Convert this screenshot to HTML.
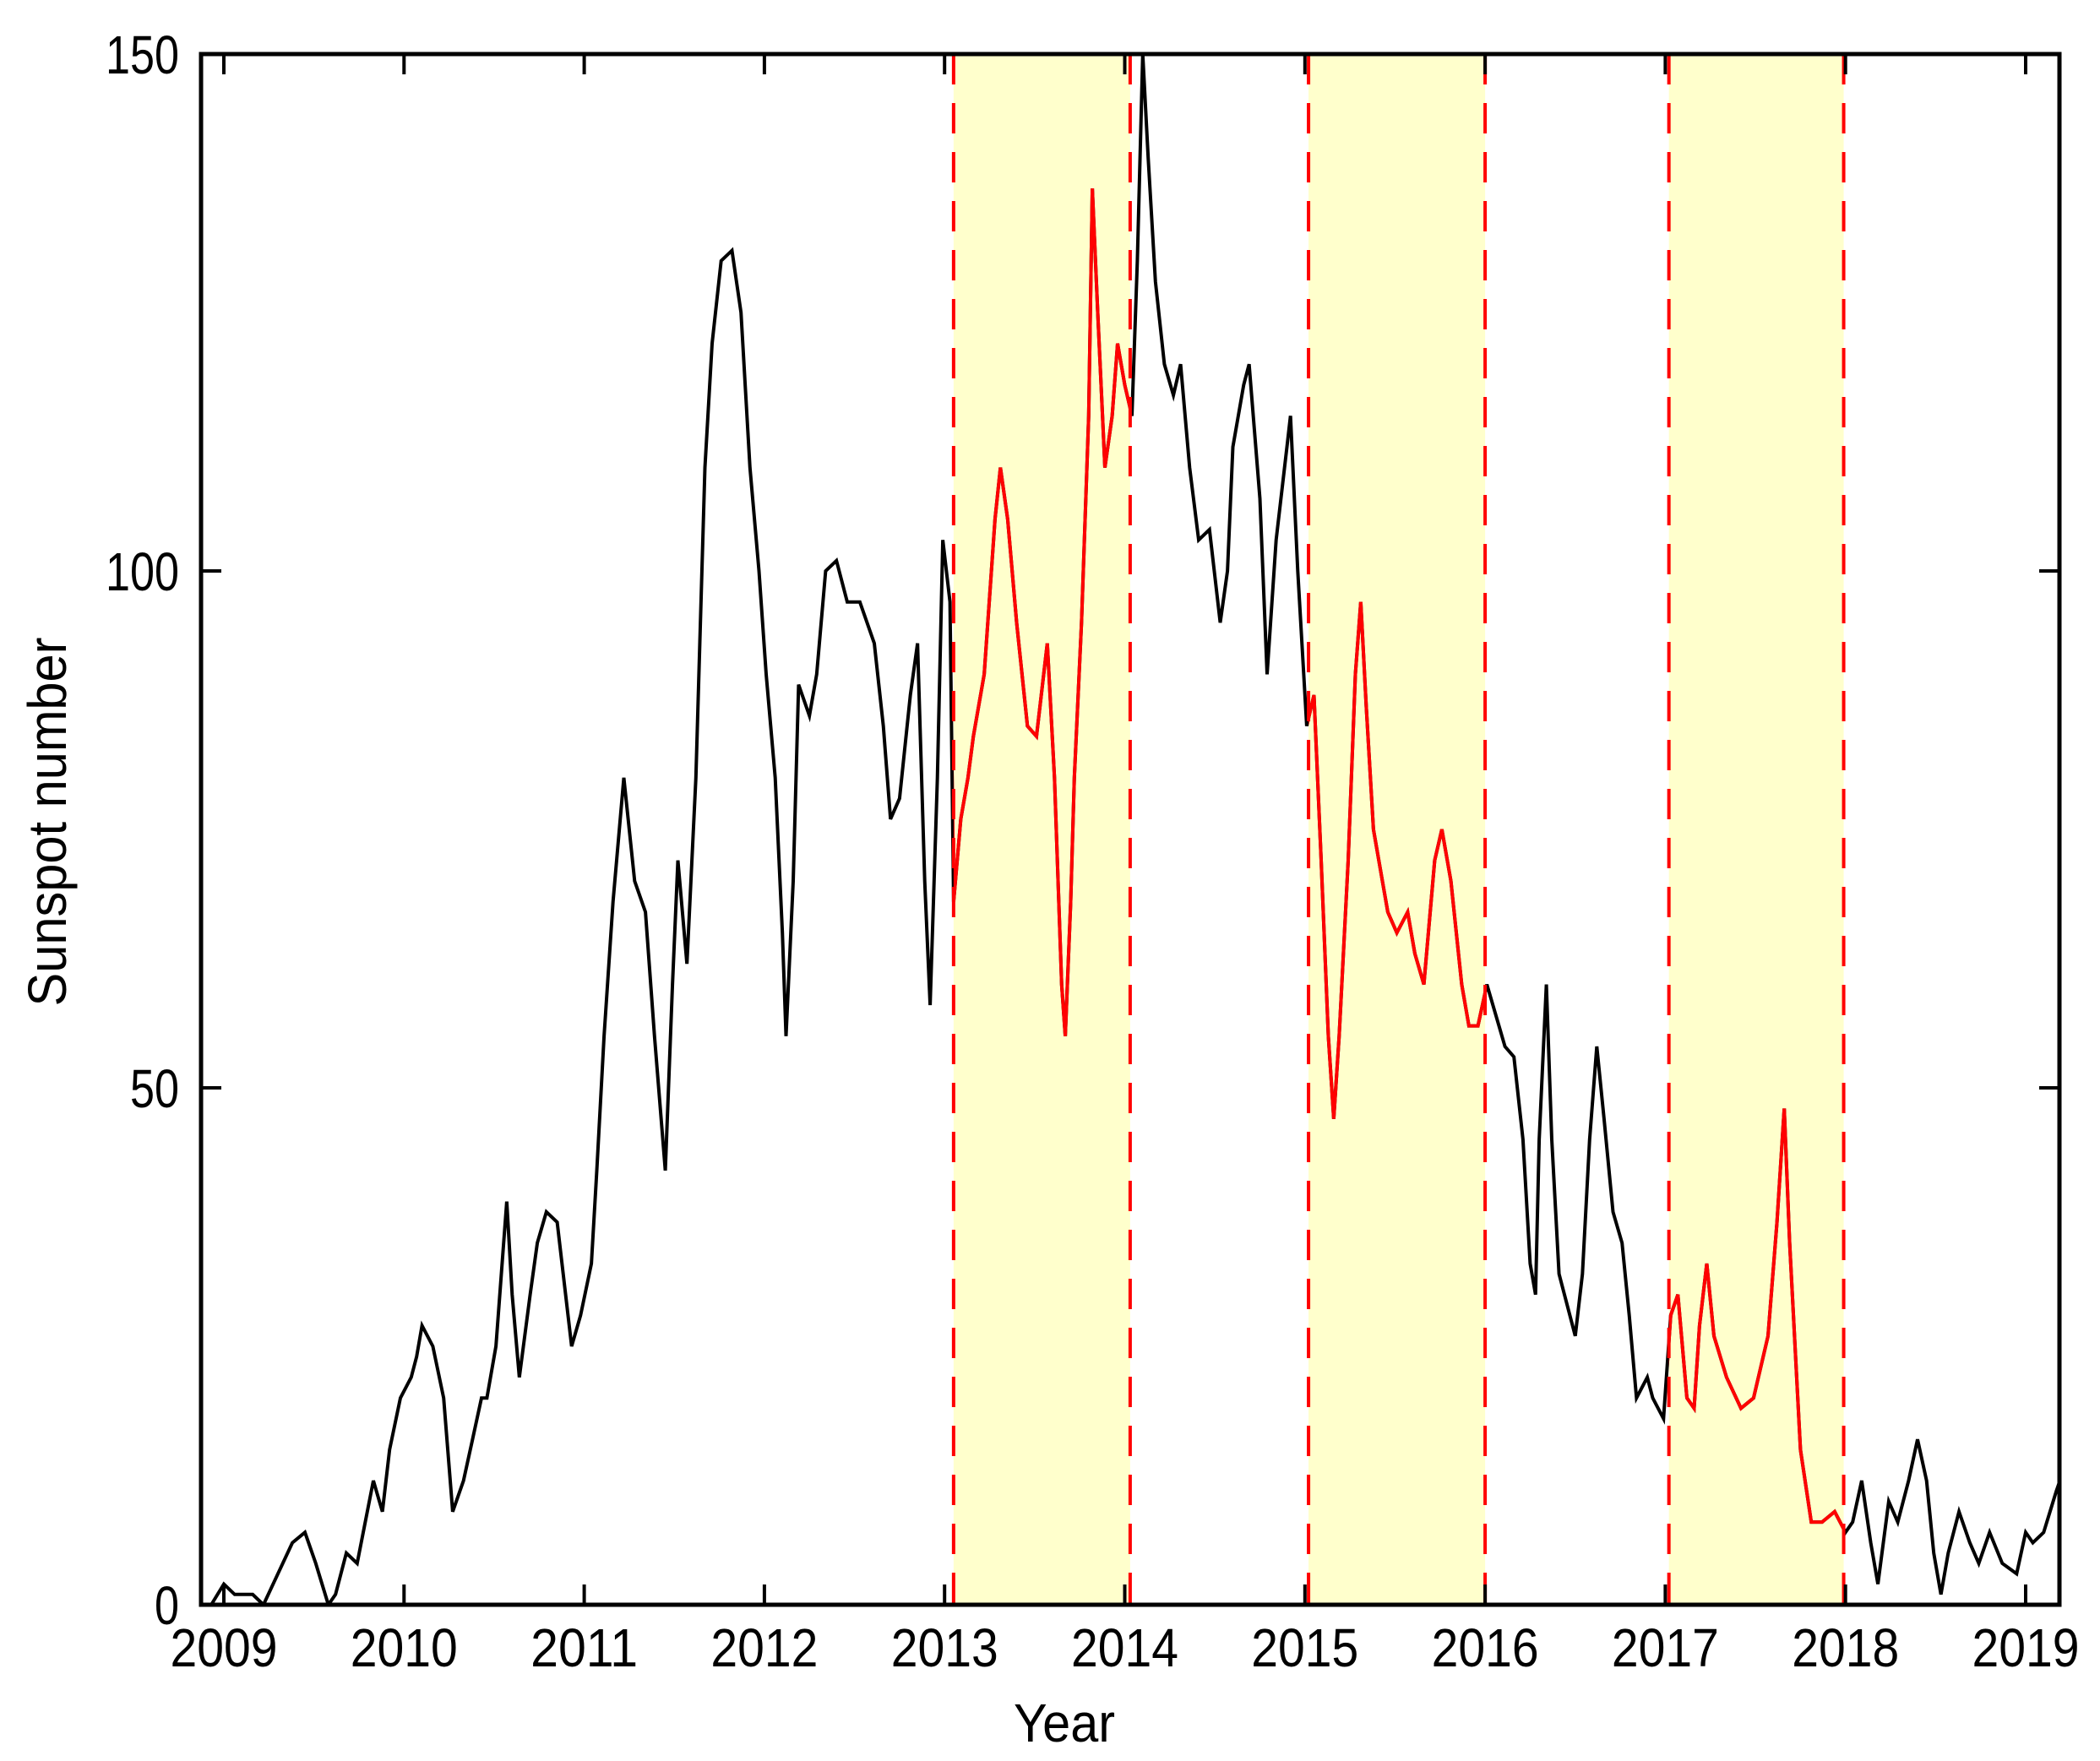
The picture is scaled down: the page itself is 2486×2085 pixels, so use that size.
<!DOCTYPE html>
<html><head><meta charset="utf-8"><style>
html,body{margin:0;padding:0;background:#fff;}
svg{display:block;}
text{font-family:"Liberation Sans",sans-serif;fill:#000;}
</style></head><body>
<svg id="chart" width="2486" height="2085" viewBox="0 0 2486 2085" xmlns="http://www.w3.org/2000/svg">
<rect x="0" y="0" width="2486" height="2085" fill="#fff"/>
<g id="shades"></g>
<g id="lines"></g>
<g id="dashes"></g>
<g id="axes"></g>
<text x="1260" y="2062" font-size="64" text-anchor="middle" textLength="120" lengthAdjust="spacingAndGlyphs">Year</text>
<text transform="translate(78,973) rotate(-90)" x="0" y="0" font-size="64" text-anchor="middle" textLength="437" lengthAdjust="spacingAndGlyphs">Sunspot number</text>
</svg>
<script>
const years = [2008.93,2009.00,2009.06,2009.16,2009.22,2009.30,2009.38,2009.45,2009.51,2009.58,2009.62,2009.68,2009.74,2009.83,2009.88,2009.92,2009.98,2010.04,
2010.07,2010.10,2010.16,2010.22,2010.27,2010.33,2010.38,2010.43,2010.46,2010.51,2010.57,2010.60,2010.64,2010.70,2010.74,2010.79,2010.85,2010.93,2010.98,2011.04,2011.07,
2011.11,2011.16,2011.22,2011.28,2011.34,2011.39,2011.45,2011.49,2011.52,2011.57,2011.62,2011.67,2011.71,2011.76,2011.82,2011.87,2011.92,2011.97,2012.01,2012.06,
2012.10,2012.12,2012.16,2012.19,2012.25,2012.29,2012.34,2012.40,2012.46,2012.53,2012.61,2012.66,2012.70,2012.75,2012.81,2012.85,2012.89,2012.92,2012.96,2012.99,2013.03,2013.05,
2013.09,2013.13,2013.16,2013.22,2013.28,2013.31,2013.35,2013.40,2013.46,2013.51,2013.57,2013.61,2013.65,2013.67,2013.70,2013.72,2013.76,2013.80,2013.82,2013.85,2013.89,2013.93,2013.96,2014.00,2014.04,2014.07,
2014.10,2014.13,2014.17,2014.22,2014.27,2014.31,2014.36,2014.41,2014.47,2014.53,2014.57,2014.60,2014.66,2014.69,2014.75,2014.79,2014.84,2014.90,2014.92,2014.96,2015.01,2015.05,
2015.09,2015.13,2015.16,2015.19,2015.24,2015.28,2015.31,2015.34,2015.38,2015.43,2015.46,2015.51,2015.57,2015.61,2015.66,2015.72,2015.76,2015.81,2015.87,2015.91,2015.96,2016.01,
2016.06,2016.11,2016.16,2016.21,2016.25,2016.28,2016.30,2016.34,2016.37,2016.41,2016.47,2016.50,2016.54,2016.58,2016.62,2016.66,2016.71,2016.76,2016.80,2016.84,2016.90,2016.93,2016.99,2017.03,
2017.07,2017.12,2017.16,2017.19,2017.23,2017.27,2017.34,2017.42,2017.49,2017.57,2017.62,2017.66,2017.69,2017.75,2017.81,2017.87,2017.94,2018.00,2018.04,
2018.09,2018.14,2018.18,2018.24,2018.29,2018.35,2018.40,2018.45,2018.49,2018.53,2018.57,2018.63,2018.69,2018.74,2018.80,2018.87,2018.95,2019.00,2019.04,2019.10,2019.17,2019.21];
const sunspots = [0,2,1,1,0,3,6,7,4,0,1,5,4,12,9,15,20,22,
24,27,25,20,9,12,16,20,20,25,39,30,22,30,35,38,37,25,28,33,42,
55,68,80,70,67,55,42,60,72,62,80,110,122,130,131,125,110,100,90,80,
65,55,70,89,86,90,100,101,97,97,93,85,76,78,88,93,70,58,80,103,97,68,
76,80,84,90,105,110,105,95,85,84,93,80,60,55,68,80,95,115,137,125,110,115,122,118,115,130,
150,140,128,120,117,120,110,103,104,95,100,112,118,120,107,90,103,112,115,100,85,88,
72,55,47,55,72,90,97,87,75,70,67,65,67,63,60,72,75,70,60,56,56,60,
57,54,53,45,33,30,45,60,45,32,28,26,32,45,54,47,38,35,28,20,22,20,18,28,
30,20,19,27,33,26,22,19,20,26,37,48,35,15,8,8,9,7,8,
12,6,2,10,8,12,16,12,5,1,5,9,6,4,7,4,3,7,6,7,11,13];
const bandStarts = [2013.05, 2015.02, 2017.02];
const bandEnds = [2014.03, 2016.00, 2017.99];
const xTicks = [2009,2010,2011,2012,2013,2014,2015,2016,2017,2018,2019];
const yTicks = [0,50,100,150];

const L=238, R=2438, T=64, B=1900;
const xs = y => 265 + (y - 2009) * 213.3;
const ys = v => B - v * (B - T) / 150;
const NS='http://www.w3.org/2000/svg';
function mk(tag, attrs, parent){const e=document.createElementNS(NS,tag);for(const k in attrs)e.setAttribute(k,attrs[k]);parent.appendChild(e);return e;}

const svg=document.getElementById('chart');
const defs=mk('defs',{},svg);
const cpPlot=mk('clipPath',{id:'plotclip'},defs);
mk('rect',{x:L,y:T,width:R-L,height:B-T},cpPlot);
const cpBand=mk('clipPath',{id:'bandclip'},defs);

const shades=document.getElementById('shades');
const dashes=document.getElementById('dashes');
bandStarts.forEach((s,i)=>{
  const x0=xs(s), x1=xs(bandEnds[i]);
  const r=mk('rect',{x:x0,y:T,width:x1-x0,height:B-T,fill:'#ffffcc'},shades);
  
  
  mk('rect',{x:x0,y:T,width:x1-x0,height:B-T},cpBand);
  [x0,x1].forEach((x,j)=>{
    const l=mk('line',{x1:x,y1:T,x2:x,y2:B,stroke:'#ff0000','stroke-width':4,'stroke-dasharray':'36 22'},dashes);
    
    
  });
});

const pts=years.map((y,i)=>xs(y).toFixed(1)+','+ys(sunspots[i]).toFixed(1)).join(' ');
const lines=document.getElementById('lines');
const black=mk('polyline',{points:pts,fill:'none',stroke:'#000','stroke-width':4,'stroke-linejoin':'miter','clip-path':'url(#plotclip)'},lines);


const red=mk('polyline',{points:pts,fill:'none',stroke:'#ff0000','stroke-width':4,'clip-path':'url(#bandclip)'},lines);



const axes=document.getElementById('axes');
const frame=mk('rect',{x:L,y:T,width:R-L,height:B-T,fill:'none',stroke:'#000','stroke-width':5},axes);


xTicks.forEach(t=>{
  const x=xs(t);
  mk('line',{x1:x,y1:B,x2:x,y2:B-24,stroke:'#000','stroke-width':4},axes);
  mk('line',{x1:x,y1:T,x2:x,y2:T+24,stroke:'#000','stroke-width':4},axes);
  const tx=mk('text',{x:x,y:1973,'font-size':64,'text-anchor':'middle',textLength:127,lengthAdjust:'spacingAndGlyphs'},axes);
  tx.textContent=t;
  
  
});
yTicks.forEach(t=>{
  const y=ys(t);
  mk('line',{x1:L,y1:y,x2:L+24,y2:y,stroke:'#000','stroke-width':4},axes);
  mk('line',{x1:R,y1:y,x2:R-24,y2:y,stroke:'#000','stroke-width':4},axes);
  const s=String(t);
  const tx=mk('text',{x:212,y:y+23,'font-size':64,'text-anchor':'end',textLength:s.length*29,lengthAdjust:'spacingAndGlyphs'},axes);
  tx.textContent=s;
  
  
});
</script>
</body></html>
